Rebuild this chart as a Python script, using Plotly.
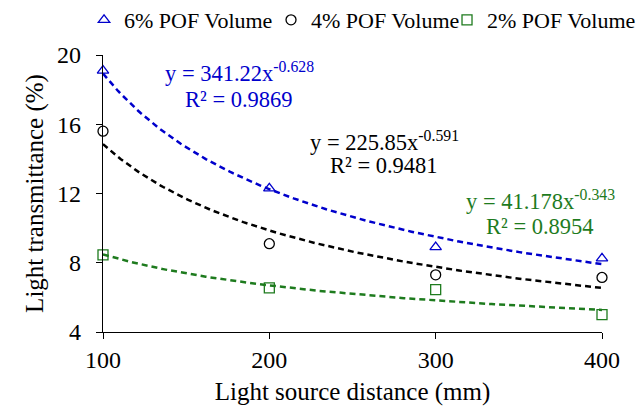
import numpy as np
import plotly.graph_objects as go

distance = [100, 200, 300, 400]
pof6 = [19.1, 12.3, 8.9, 8.25]
pof4 = [15.6, 9.1, 7.3, 7.15]
pof2 = [8.45, 6.55, 6.45, 5.0]

series_names = ["6% POF Volume", "4% POF Volume", "2% POF Volume"]
fit_a = [341.22, 225.85, 41.178]
fit_b = [-0.628, -0.591, -0.343]
fit_r2 = ["0.9869", "0.9481", "0.8954"]

colors = ["#0000CC", "#000000", "#1E7B1E"]
symbols = ["triangle-up-open", "circle-open", "square-open"]
legend_ids = ["legend", "legend2", "legend3"]
legend_x = [-0.038, 0.3367, 0.6894]
font = "Liberation Serif, Times New Roman, serif"

fig = go.Figure()
xs = np.linspace(100, 400, 200)
for a, b, c in zip(fit_a, fit_b, colors):
    fig.add_trace(go.Scatter(x=xs, y=a * xs ** b, mode="lines",
                             line=dict(color=c, width=2.5, dash="6px,4px"),
                             showlegend=False, hoverinfo="skip", cliponaxis=False))
for vals, name, c, s, lg in zip([pof6, pof4, pof2], series_names, colors, symbols, legend_ids):
    fig.add_trace(go.Scatter(x=distance, y=vals, mode="markers", name=name, legend=lg,
                             marker=dict(symbol=s, size=10, color=c, line=dict(color=c, width=1.3)),
                             cliponaxis=False))

# equation label positions (data coords): x centre, y of equation line, y of R² line
eq_x = [182, 269, 363]
eq_y = [19.0, 15.05, 11.6]
r2_y = [17.45, 13.6, 10.12]
for ax, ey, ry, a, b, r2, c in zip(eq_x, eq_y, r2_y, fit_a, fit_b, fit_r2, colors):
    fig.add_annotation(x=ax, y=ey, xref="x", yref="y", showarrow=False,
                       text=f"y = {a}x<sup>{b}</sup>",
                       font=dict(family=font, size=22.5, color=c))
    fig.add_annotation(x=ax, y=ry, xref="x", yref="y", showarrow=False,
                       text=f"R² = {r2}",
                       font=dict(family=font, size=22.5, color=c))

legend_style = dict(orientation="h", xanchor="left", yref="container", y=0.951, yanchor="middle",
                    font=dict(family=font, size=22), itemwidth=30, bgcolor="rgba(0,0,0,0)")
fig.update_layout(
    width=643, height=409,
    margin=dict(l=103, r=41, t=55, b=77, autoexpand=False),
    paper_bgcolor="white", plot_bgcolor="white",
    font=dict(family=font, size=24, color="black"),
    legend=dict(x=legend_x[0], **legend_style),
    legend2=dict(x=legend_x[1], **legend_style),
    legend3=dict(x=legend_x[2], **legend_style),
)
fig.update_xaxes(range=[100, 400], tickvals=distance, showline=True, linecolor="black", linewidth=1.3,
                 ticks="outside", ticklen=6, tickcolor="black", showgrid=False, zeroline=False,
                 title=dict(text="Light source distance (mm)", font=dict(size=25), standoff=10),
                 tickfont=dict(size=24))
fig.update_yaxes(range=[4, 20], tickvals=[4, 8, 12, 16, 20], showline=True, linecolor="black", linewidth=1.3,
                 ticks="outside", ticklen=6, tickcolor="black", showgrid=False, zeroline=False,
                 ticklabelstandoff=10,
                 title=dict(text="Light transmittance (%)", font=dict(size=25), standoff=6),
                 tickfont=dict(size=24))

fig.write_html("out.html")
